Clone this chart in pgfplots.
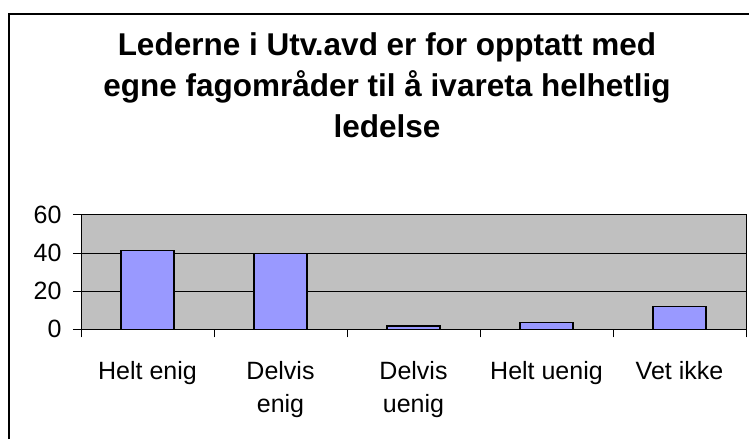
\documentclass[border=0pt]{standalone}
\usepackage{pgfplots}
\pgfplotsset{compat=1.18}
\usepackage{fontspec}
\setmainfont{Liberation Sans}
\definecolor{plotbg}{HTML}{C0C0C0}
\definecolor{barfill}{HTML}{9999FF}
\begin{document}
\begin{tikzpicture}[x=1pt,y=1pt]
\useasboundingbox (0,0) rectangle (749,-439);
\draw[line width=1.2pt] (9,-439) -- (9,-14) -- (749,-14);
\node[align=center,font=\fontsize{31.5}{41}\selectfont\bfseries] at (387,-85)
  {Lederne i Utv.avd er for opptatt med\\egne fagområder til å ivareta helhetlig\\ledelse};
\begin{axis}[
  at={(81pt,-329.3pt)}, anchor=south west,
  scale only axis, width=665pt, height=114.6pt,
  xmin=-0.5, xmax=4.5, ymin=0, ymax=60,
  axis background/.style={fill=plotbg},
  axis line style={black, line width=0.8pt},
  xtick={0,1,2,3,4},
  xticklabels={Helt enig, Delvis\\enig, Delvis\\uenig, Helt uenig, Vet ikke},
  major x tick style={draw=none},
  minor xtick={-0.5,0.5,1.5,2.5,3.5,4.5},
  minor x tick style={black, line width=0.8pt},
  minor tick length=8pt,
  ytick={0,20,40,60},
  major tick length=8pt,
  tick align=outside,
  xtick pos=bottom, ytick pos=left,
  ymajorgrids, grid style={black, line width=0.8pt},
  y tick style={black, line width=0.8pt},
  tick label style={font=\fontsize{25}{33}\selectfont},
  xticklabel style={align=center, anchor=north, yshift=-21pt},
  yticklabel style={anchor=east, xshift=-8pt},
  /pgf/number format/assume math mode=true,
]
\addplot[ybar, bar width=53pt, fill=barfill, draw=black, line width=1.2pt]
  coordinates {(0,41.4) (1,39.7) (2,1.7) (3,3.4) (4,11.9)};
\end{axis}
\end{tikzpicture}
\end{document}
